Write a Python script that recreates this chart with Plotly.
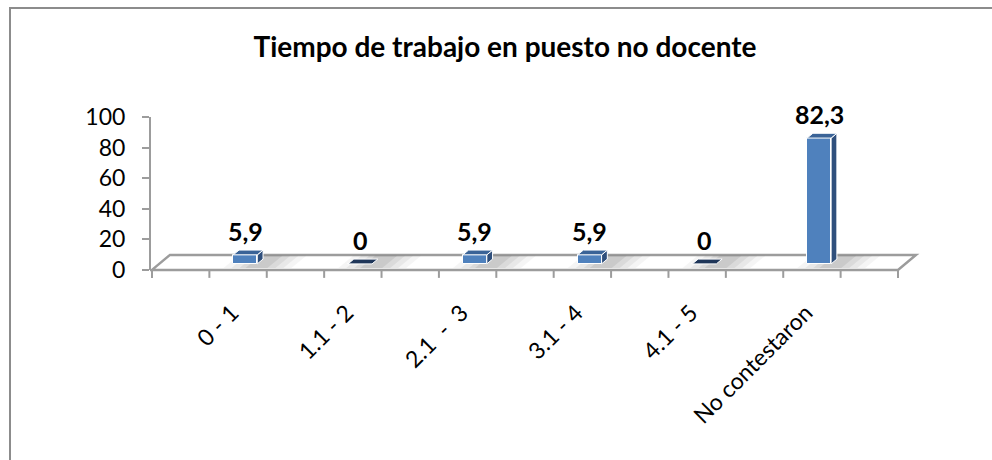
import plotly.graph_objects as go

# Data
categories = ["0 - 1", "1.1 - 2", "2.1  -  3", "3.1 - 4", "4.1 - 5", "No contestaron"]
values = [5.9, 0, 5.9, 5.9, 0, 82.3]
y_ticks = [0, 20, 40, 60, 80, 100]
title_text = "Tiempo de trabajo en puesto no docente"

# Canvas / plot geometry (pixels)
W, H = 992, 460
PL, PR = 150, 925           # plot area left / right
X_FRONT0, X_FRONT1 = 152, 898   # front edge of the floor
Y0_PX, Y100_PX = 270, 117    # value 0 / 100 on the front plane
SY = (Y0_PX - Y100_PX) / 100.0
SX = (X_FRONT1 - X_FRONT0) / 6.5
Y_MIN = -4
PB = Y0_PX - Y_MIN * SY

x_lo = -0.75 - (X_FRONT0 - PL) / SX
x_hi = -0.75 + (PR - X_FRONT0) / SX

# 3D depth vector of the floor (in data units)
DX = 18 / SX
DY = 15 / SY
F0, F1 = 0.40, 0.72          # bar front / back depth fractions
HW = 12 / SX                 # half bar width


def paper_x(px):
    return (px - PL) / (PR - PL)


def paper_y(py):
    return (PB - py) / (PB - Y100_PX)


def fmt(v):
    s = ("%.1f" % v).rstrip("0").rstrip(".")
    return s.replace(".", ",")


FRONT = "#4F81BD"
SIDE = "#2F4F7C"
TOP = "#3A6397"
TOP_ZERO = "#1F3659"
GRID = "#9C9C9C"

fig = go.Figure()

# front faces of the columns
xs_front = [i + F0 * DX for i in range(len(values))]
fig.add_trace(go.Bar(
    x=xs_front, y=values, base=F0 * DY, width=2 * HW,
    marker=dict(color=FRONT, line=dict(color="white", width=1)),
    hoverinfo="skip", showlegend=False,
))

# side and top faces
side_x, side_y, top_x, top_y, topz_x, topz_y = [], [], [], [], [], []
ddx, ddy = (F1 - F0) * DX, (F1 - F0) * DY
for i, v in enumerate(values):
    xl = i + F0 * DX - HW
    xr = i + F0 * DX + HW
    yb = F0 * DY
    yt = yb + v
    if v > 0:
        side_x += [xr, xr + ddx, xr + ddx, xr, xr, None]
        side_y += [yb, yb + ddy, yt + ddy, yt, yb, None]
        top_x += [xl, xr, xr + ddx, xl + ddx, xl, None]
        top_y += [yt, yt, yt + ddy, yt + ddy, yt, None]
    else:
        topz_x += [xl, xr, xr + ddx, xl + ddx, xl, None]
        topz_y += [yt, yt, yt + ddy, yt + ddy, yt, None]

for xx, yy, col in [(side_x, side_y, SIDE), (top_x, top_y, TOP), (topz_x, topz_y, TOP_ZERO)]:
    fig.add_trace(go.Scatter(
        x=xx, y=yy, mode="lines", fill="toself", fillcolor=col,
        line=dict(color="white", width=1), hoverinfo="skip", showlegend=False,
    ))

shapes = []
# floor
fx0, fx1 = -0.75, 5.75
shapes.append(dict(
    type="path", xref="x", yref="y", layer="below",
    path=f"M {fx0},0 L {fx1},0 L {fx1 + DX},{DY} L {fx0 + DX},{DY} Z",
    fillcolor="white", line=dict(color=GRID, width=2.5),
))
# soft shadows behind the columns
for i, v in enumerate(values):
    cx = i + F0 * DX
    for a, b, al in [(-24, 44, 0.04), (-16, 36, 0.05), (-8, 28, 0.06), (-2, 20, 0.07)]:
        xa = cx + a / SX
        xb = cx + b / SX
        d0, d1 = 0.12, 0.95
        shapes.append(dict(
            type="path", xref="x", yref="y", layer="below",
            path=(f"M {xa + d0 * DX},{d0 * DY} L {xb + d0 * DX},{d0 * DY} "
                  f"L {xb + d1 * DX},{d1 * DY} L {xa + d1 * DX},{d1 * DY} Z"),
            fillcolor=f"rgba(0,0,0,{al})", line=dict(width=0),
        ))
# y axis line
shapes.append(dict(type="line", xref="paper", yref="y", x0=0, x1=0, y0=0, y1=100,
                   line=dict(color=GRID, width=2)))
# category axis tick marks
for k in range(14):
    xk = -0.75 + 0.5 * k
    shapes.append(dict(type="line", xref="x", yref="paper", x0=xk, x1=xk,
                       y0=paper_y(Y0_PX), y1=paper_y(Y0_PX + 8),
                       line=dict(color=GRID, width=2)))
# chart frame
shapes.append(dict(type="rect", xref="paper", yref="paper",
                   x0=paper_x(10), x1=paper_x(1005), y0=paper_y(475), y1=paper_y(8),
                   line=dict(color="#8C8C8C", width=2), fillcolor="rgba(0,0,0,0)"))

# value labels
annotations = []
for i, v in enumerate(values):
    annotations.append(dict(
        x=i + F0 * DX, y=F0 * DY + v, xref="x", yref="y", text=fmt(v),
        showarrow=False, yanchor="middle", yshift=24,
        font=dict(family="Lato", size=25, color="black", weight="bold"),
    ))

fig.update_layout(
    width=W, height=H,
    margin=dict(l=PL, r=W - PR, t=Y100_PX, b=H - PB, pad=0),
    paper_bgcolor="white", plot_bgcolor="white",
    bargap=0,
    title=dict(text=title_text, x=505 / W, xref="container", xanchor="center",
               y=1 - 47 / H, yref="container", yanchor="middle",
               font=dict(family="Lato", size=28, color="black", weight="bold")),
    xaxis=dict(range=[x_lo, x_hi], tickvals=list(range(len(categories))), ticktext=categories,
               tickangle=-45, ticks="", showline=False, showgrid=False, zeroline=False,
               anchor="free", position=paper_y(Y0_PX), automargin=False,
               ticklabelstandoff=24, ticklabelshift=-6,
               tickfont=dict(family="Lato", size=23, color="black")),
    yaxis=dict(range=[Y_MIN, 100], tickvals=y_ticks, ticks="outside", ticklen=7, tickwidth=2,
               tickcolor=GRID, showline=False, showgrid=False, zeroline=False,
               automargin=False, ticklabelstandoff=12,
               tickfont=dict(family="Lato", size=23, color="black")),
    shapes=shapes, annotations=annotations, showlegend=False,
)

fig.write_html("out.html")
